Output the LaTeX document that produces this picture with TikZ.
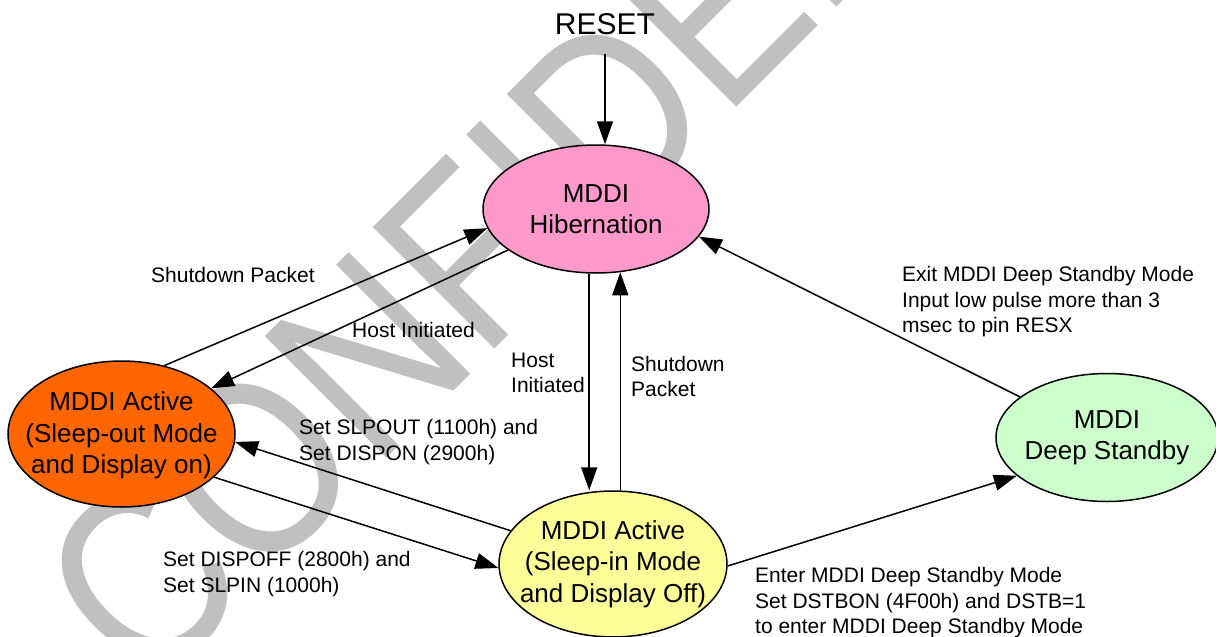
\documentclass[tikz,border=0pt]{standalone}
\usepackage{fontspec}
\setmainfont{Liberation Sans}
\usetikzlibrary{shapes.geometric,arrows.meta}
\definecolor{hibpink}{HTML}{FF99CC}
\definecolor{actorange}{HTML}{FF6600}
\definecolor{sinyellow}{HTML}{FFFF99}
\definecolor{dsgreen}{HTML}{CCFFCC}
\definecolor{wmgray}{HTML}{C0C0C0}
\begin{document}
\begin{tikzpicture}[x=1pt,y=-1pt,
  state/.style={ellipse, draw=black, line width=1.5pt, inner sep=0pt},
  statetext/.style={font=\fontsize{26}{31.5}\selectfont, align=center, inner sep=0pt},
  lbl/.style={font=\fontsize{21}{25.5}\selectfont, align=left, inner sep=0pt, anchor=west},
  arr/.style={line width=1.5pt, -{Triangle[length=23pt,width=16pt]}},
  wm/.style={font=\fontsize{250}{250}\selectfont, text=wmgray, rotate=45, anchor=base west, inner sep=0pt}]
\useasboundingbox (0,0) rectangle (1216,637);
\fill[white] (0,0) rectangle (1216,637);
% watermark
\node[wm] (wmark) at (148.5,696) {\scalebox{0.85}[1]{CONFIDENTIAL}};
% states
\node[state, fill=hibpink, minimum width=226pt, minimum height=128pt] (hib) at (596,209) {};
\node[statetext] (hibt) at (hib.center) {MDDI\\Hibernation};
\node[state, fill=actorange, minimum width=227pt, minimum height=146pt] (or) at (121.5,434) {};
\node[statetext] (ort) at ([yshift=-1.5pt]or.center) {MDDI Active\\(Sleep-out Mode\\and Display on)};
\node[state, fill=sinyellow, minimum width=228pt, minimum height=146pt] (sin) at (613,564) {};
\node[statetext] (sint) at (sin.center) {MDDI Active\\(Sleep-in Mode\\and Display Off)};
\node[state, fill=dsgreen, minimum width=222pt, minimum height=128pt] (ds) at (1107,437.5) {};
\node[statetext] (dst) at (ds.center) {MDDI\\Deep Standby};
% reset
\node[font=\fontsize{30}{36}\selectfont, inner sep=0pt] (reset) at (605,24) {RESET};
% labels
\node[lbl] (l1) at (151,275) {Shutdown Packet};
\node[lbl] (l2) at (352,330) {Host Initiated};
\node[lbl] (l3) at (511,373) {Host\\Initiated};
\node[lbl] (l4) at (631,376.5) {Shutdown\\Packet};
\node[lbl] (l5) at (299,442) {Set SLPOUT (1100h) and\\Set DISPON (2900h)};
\node[lbl] (l6) at (163,574) {Set DISPOFF (2800h) and\\Set SLPIN (1000h)};
\node[lbl] (l7) at (902,302) {Exit MDDI Deep Standby Mode\\Input low pulse more than 3\\msec to pin RESX};
\node[lbl] (l8) at (755,603) {Enter MDDI Deep Standby Mode\\Set DSTBON (4F00h) and DSTB=1\\to enter MDDI Deep Standby Mode};
% connectors
\draw[arr] ([yshift=-19pt]reset.south) -- (hib.north -| reset.south);
\draw[arr] (or.58) -- (hib.190);
\draw[arr] (hib.205) -- (or.27);
\draw[arr] (hib.264) -- (hib.264 |- sin.north);
\draw[arr] (sin.north -| hib.291) -- (hib.291);
\draw[arr] (sin.162) -- (or.-4);
\draw[arr] (or.-25) -- (sin.182);
\draw[arr] (sin.-1) -- (ds.203);
\draw[arr] (ds.155) -- (hib.-15);
\end{tikzpicture}
\end{document}
